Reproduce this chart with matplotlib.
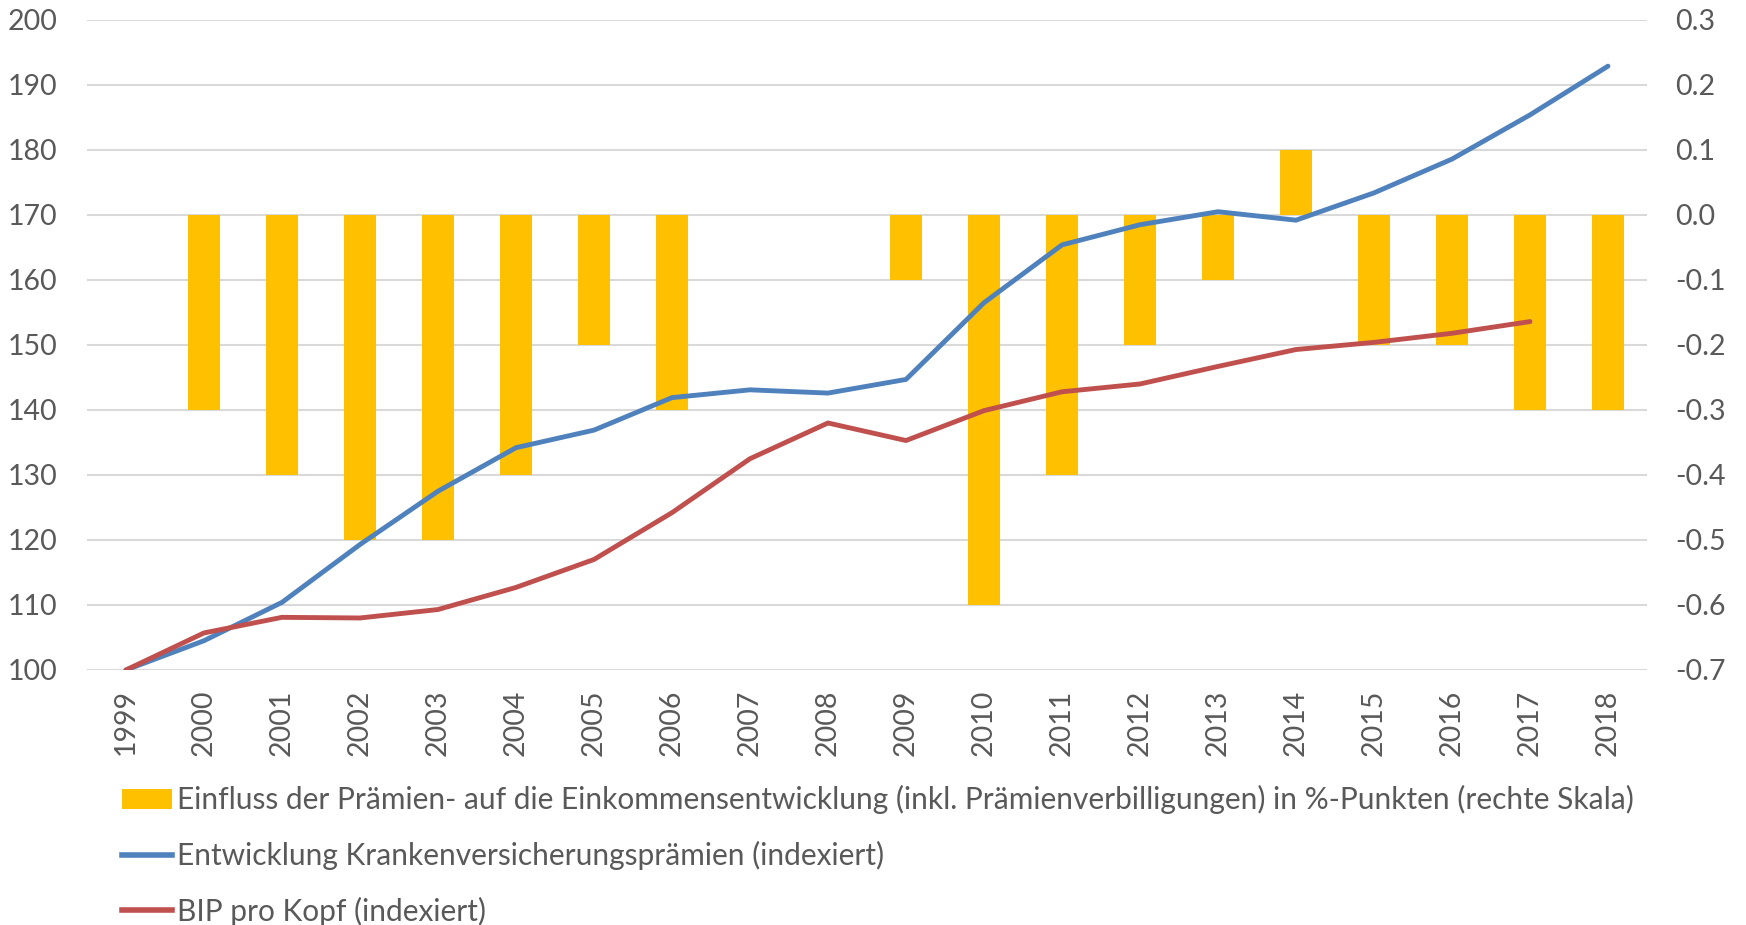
import matplotlib
matplotlib.use("Agg")
import matplotlib.pyplot as plt
from matplotlib.patches import Patch
from matplotlib.lines import Line2D

# data
years = [str(y) for y in range(1999, 2019)]
einfluss = [None, -0.3, -0.4, -0.5, -0.5, -0.4, -0.2, -0.3, 0.0, 0.0,
            -0.1, -0.6, -0.4, -0.2, -0.1, 0.1, -0.2, -0.2, -0.3, -0.3]
praemien = [100, 104.5, 110.4, 119.3, 127.5, 134.2, 136.9, 141.9, 143.1, 142.6,
            144.7, 156.5, 165.4, 168.5, 170.5, 169.2, 173.4, 178.6, 185.4, 192.9]
bip = [100, 105.7, 108.1, 108.0, 109.3, 112.7, 117.0, 124.2, 132.5, 138.0,
       135.3, 139.9, 142.8, 144.0, 146.7, 149.3, 150.4, 151.8, 153.6]

YELLOW = "#FFC000"
BLUE = "#4F81BD"
RED = "#C0504D"
GRID = "#D9D9D9"
TXT = "#595959"

plt.rcParams.update({
    "font.family": ["Lato", "DejaVu Sans"],
    "font.size": 20,
})

fig = plt.figure(figsize=(17.46, 9.25), dpi=100)
ax = fig.add_axes([0.0498, 0.2757, 0.8935, 0.7027])
ax2 = ax.twinx()

x = list(range(len(years)))
bx = [i for i, v in zip(x, einfluss) if v is not None]
bv = [v for v in einfluss if v is not None]
ax2.bar(bx, bv, width=0.4, color=YELLOW, zorder=2)
ax2.set_ylim(-0.7, 0.3)
ax2.set_yticks([round(-0.7 + 0.1 * i, 1) for i in range(11)])
ax2.set_yticklabels([f"{-0.7 + 0.1 * i:.1f}".replace("-0.0", "0.0") for i in range(11)])
ax2.grid(axis="y", color=GRID, lw=1.5, zorder=0)
ax2.set_axisbelow(True)

ax.plot(x, praemien, color=BLUE, lw=3.5, solid_capstyle="round")
ax.plot(x[:len(bip)], bip, color=RED, lw=3.5, solid_capstyle="round")
ax.set_ylim(100, 200)
ax.set_yticks(range(100, 201, 10))
ax.set_xlim(-0.5, len(years) - 0.5)
ax.set_xticks(x)
ax.set_xticklabels(years, rotation=90)
ax.set_zorder(ax2.get_zorder() + 1)
ax.patch.set_visible(False)

for a in (ax, ax2):
    for s in a.spines.values():
        s.set_visible(False)
    a.tick_params(length=0, colors=TXT, labelsize=20.5)
ax.tick_params(axis="y", pad=21)
ax.tick_params(axis="x", pad=14)
ax2.tick_params(axis="y", pad=20)

handles = [
    Patch(facecolor=YELLOW, edgecolor="none"),
    Line2D([], [], color=BLUE, lw=4),
    Line2D([], [], color=RED, lw=4),
]
labels = [
    "Einfluss der Prämien- auf die Einkommensentwicklung (inkl. Prämienverbilligungen) in %-Punkten (rechte Skala)",
    "Entwicklung Krankenversicherungsprämien (indexiert)",
    "BIP pro Kopf (indexiert)",
]
leg = fig.legend(handles, labels, loc="upper left", bbox_to_anchor=(0.07, 0.151),
                 frameon=False, fontsize=21.5, handlelength=1.67, handletextpad=0.18,
                 labelspacing=0.89, borderaxespad=0, borderpad=0)
for t in leg.get_texts():
    t.set_color(TXT)

fig.savefig("out.png", dpi=100)
